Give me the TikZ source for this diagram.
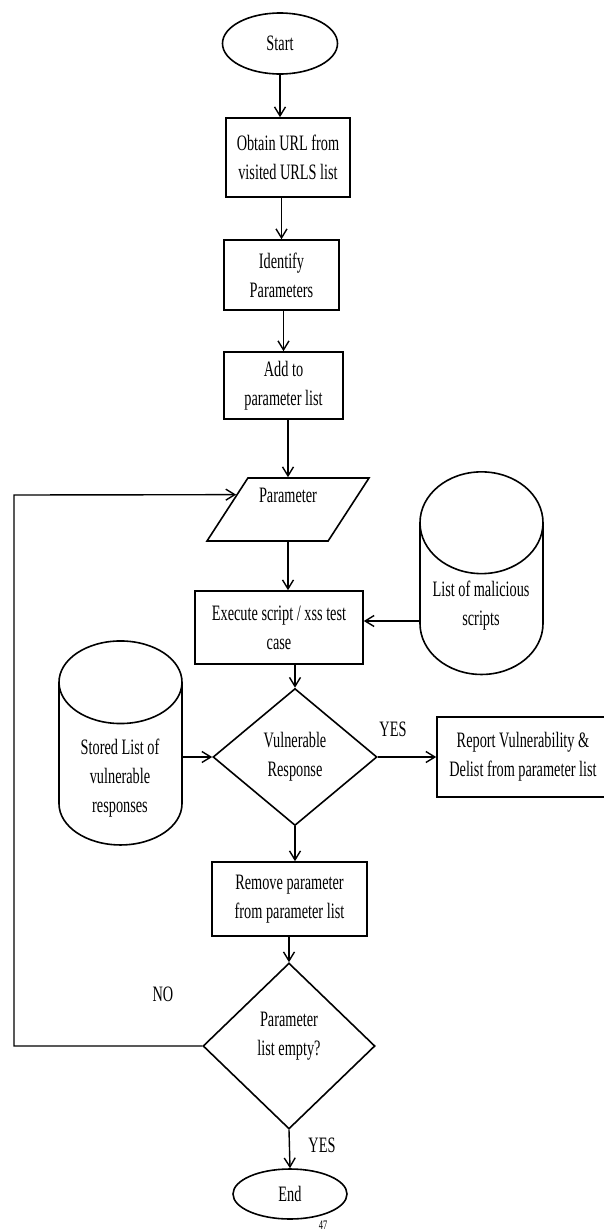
\documentclass[tikz,border=0pt]{standalone}
\usepackage{fontspec}
\setmainfont{Liberation Serif}[FakeStretch=0.65]
\usetikzlibrary{shapes.geometric,arrows.meta,calc}
\tikzset{
  box/.style={rectangle,draw,line width=1.6pt,inner sep=0pt,align=center},
  term/.style={ellipse,draw,line width=1.6pt,inner sep=0pt},
  decision/.style={diamond,draw,line width=1.6pt,inner sep=2pt,align=center},
  store/.style={cylinder,shape border rotate=90,aspect=1.05,draw,line width=1.6pt,inner sep=0pt},
  io/.style={trapezium,trapezium left angle=63,trapezium right angle=117,trapezium stretches=true,draw,line width=1.6pt,inner sep=2pt},
  arr/.style={-{Straight Barb[length=9pt,width=11pt]},line width=1.4pt},
}

\begin{document}
\begin{tikzpicture}[x=1pt,y=-1pt,every node/.style={font=\fontsize{22}{29}\selectfont,align=center}]
            \useasboundingbox (0,0) rectangle (603,1232);
            \node[term,minimum width=115,minimum height=61] (start) at (280,43.5) {Start};
            \node[box,minimum width=124,minimum height=79] (obtain) at (288,157.5) {Obtain URL from\\visited URLS list};
            \node[box,minimum width=115,minimum height=70] (identify) at (281.5,275) {Identify\\Parameters};
            \node[box,minimum width=119,minimum height=67] (addlist) at (283.5,385.5) {Add to\\parameter list};
            \node[io,minimum width=162,minimum height=63] (param) at (288,509.5) {};
            \node (paramtxt) at (288,495) {Parameter};
            \node[box,minimum width=168,minimum height=73] (execute) at (279,627.5) {Execute script / xss test\\case};
            \node[store,minimum width=123,minimum height=202] (malicious) at (481.5,599) {\phantom{List of malicious}\\\phantom{scripts}};
            \node (malicioustxt) at (481,606) {List of malicious\\scripts};
            \node[store,minimum width=123,minimum height=204] (stored) at (120.5,764) {\phantom{Stored List of}\\\phantom{vulnerable}\\\phantom{responses}};
            \node (storedtxt) at (120,778) {Stored List of\\vulnerable\\responses};
            \node[decision,minimum width=164,minimum height=137] (vul) at (295,757) {Vulnerable\\Response};
            \node[box,minimum width=172,minimum height=80] (report) at (523,757) {Report Vulnerability \&\\Delist from parameter list};
            \node[box,minimum width=155,minimum height=74] (remove) at (289.5,899) {Remove parameter\\from parameter list};
            \node[decision,minimum width=172,minimum height=166] (empty) at (289,1046) {};
            \node (emptytxt) at (289,1036) {Parameter\\list empty?};
            \node[term,minimum width=114,minimum height=50] (end) at (290,1194) {End};
            \node (yes1) at (393,729) {YES};
            \node (yes2) at (322,1145) {YES};
            \node (no) at (163,994) {NO};
            \node[font=\fontsize{13}{15}\selectfont] (pagenum) at (323,1225) {47};
            \coordinate (loop) at (14,495);
            %main flow
            \draw[arr] (start.south) -- (start.south |- obtain.north);
            \draw[arr] (identify.north |- obtain.south) -- (identify.north);
            \draw[arr] (addlist.north |- identify.south) -- (addlist.north);
            \draw[arr] (param |- addlist.south) -- (param.north);
            \draw[arr] (param.south) -- (param.south |- execute.north);
            \draw[arr] (vul |- execute.south) -- (vul.north);
            \draw[arr] (vul.south) -- (vul.south |- remove.north);
            \draw[arr] (empty |- remove.south) -- (empty.north);
            \draw[arr] (empty.south) -- (end.north);
            %side inputs
            \draw[arr] (malicious.west |- 0,621) -- (execute.east |- 0,621);
            \draw[arr] (stored.east |- vul.west) -- (vul.west);
            \draw[arr] (vul.east) -- (report.west);
            \draw[arr] (empty.west) -| (loop) -- ($(param.top left corner)!0.27!(param.bottom left corner)$);
        \end{tikzpicture}
\end{document}
